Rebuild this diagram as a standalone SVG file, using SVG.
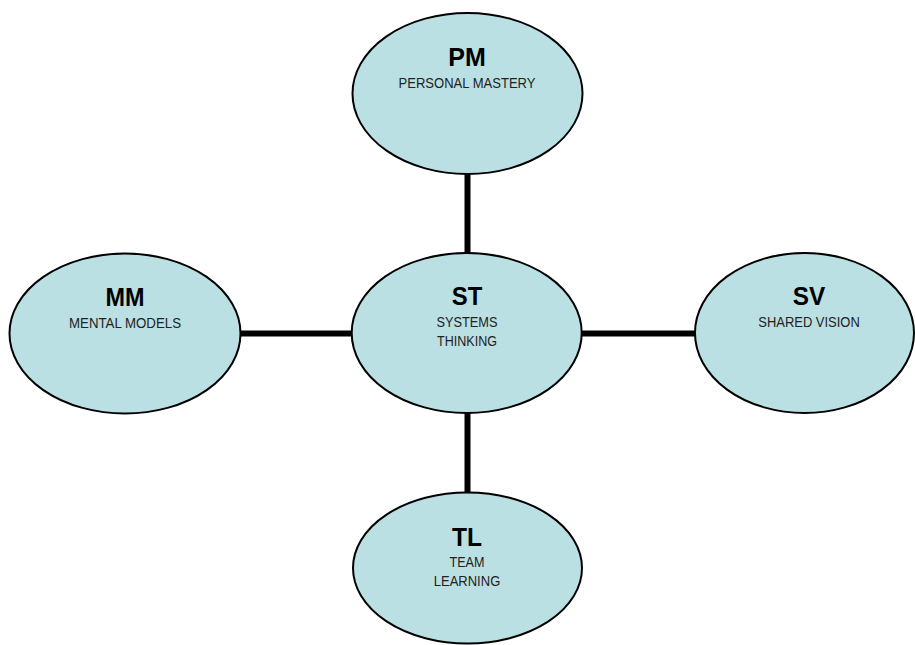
<svg xmlns="http://www.w3.org/2000/svg" width="915" height="645" viewBox="0 0 915 645">
<style>
.node ellipse{fill:#BBE0E3;stroke:#000;stroke-width:2}
.t{font-family:"Liberation Sans",Arial,sans-serif;font-size:26px;font-weight:bold;fill:#000;text-anchor:middle}
.s{font-family:"Liberation Sans",Arial,sans-serif;font-size:14px;fill:#222;text-anchor:middle}
.edge{stroke:#000;stroke-width:6;fill:none}
</style>
<rect width="915" height="645" fill="#fff"/>
<g id="connectors">
<line class="edge" x1="467.5" y1="173" x2="467.5" y2="254"/>
<line class="edge" x1="467.5" y1="412" x2="467.5" y2="494"/>
<line class="edge" x1="240" y1="333.5" x2="353" y2="333.5"/>
<line class="edge" x1="581" y1="333.5" x2="696" y2="333.5"/>
</g>
<g id="PM" class="node">
<ellipse cx="467.5" cy="93.5" rx="115" ry="80.5"/>
<text class="t" x="467" y="66" textLength="37.5" lengthAdjust="spacingAndGlyphs">PM</text>
<text class="s" x="467" y="88" textLength="137" lengthAdjust="spacingAndGlyphs">PERSONAL MASTERY</text>
</g>
<g id="ST" class="node">
<ellipse cx="466.7" cy="333" rx="115" ry="80"/>
<text class="t" x="467" y="305" textLength="30.5" lengthAdjust="spacingAndGlyphs">ST</text>
<text class="s" x="467" y="327" textLength="61" lengthAdjust="spacingAndGlyphs">SYSTEMS</text>
<text class="s" x="467" y="346" textLength="60" lengthAdjust="spacingAndGlyphs">THINKING</text>
</g>
<g id="MM" class="node">
<ellipse cx="125" cy="333.5" rx="115.5" ry="80"/>
<text class="t" x="125" y="306" textLength="39" lengthAdjust="spacingAndGlyphs">MM</text>
<text class="s" x="125" y="328" textLength="112" lengthAdjust="spacingAndGlyphs">MENTAL MODELS</text>
</g>
<g id="SV" class="node">
<ellipse cx="804.5" cy="333" rx="109.5" ry="80"/>
<text class="t" x="809" y="305" textLength="32.5" lengthAdjust="spacingAndGlyphs">SV</text>
<text class="s" x="809" y="327" textLength="101.5" lengthAdjust="spacingAndGlyphs">SHARED VISION</text>
</g>
<g id="TL" class="node">
<ellipse cx="467.5" cy="568" rx="114.5" ry="75.5"/>
<text class="t" x="467" y="546" textLength="30" lengthAdjust="spacingAndGlyphs">TL</text>
<text class="s" x="467" y="566.5" textLength="35" lengthAdjust="spacingAndGlyphs">TEAM</text>
<text class="s" x="467" y="585.5" textLength="66.5" lengthAdjust="spacingAndGlyphs">LEARNING</text>
</g>
</svg>
